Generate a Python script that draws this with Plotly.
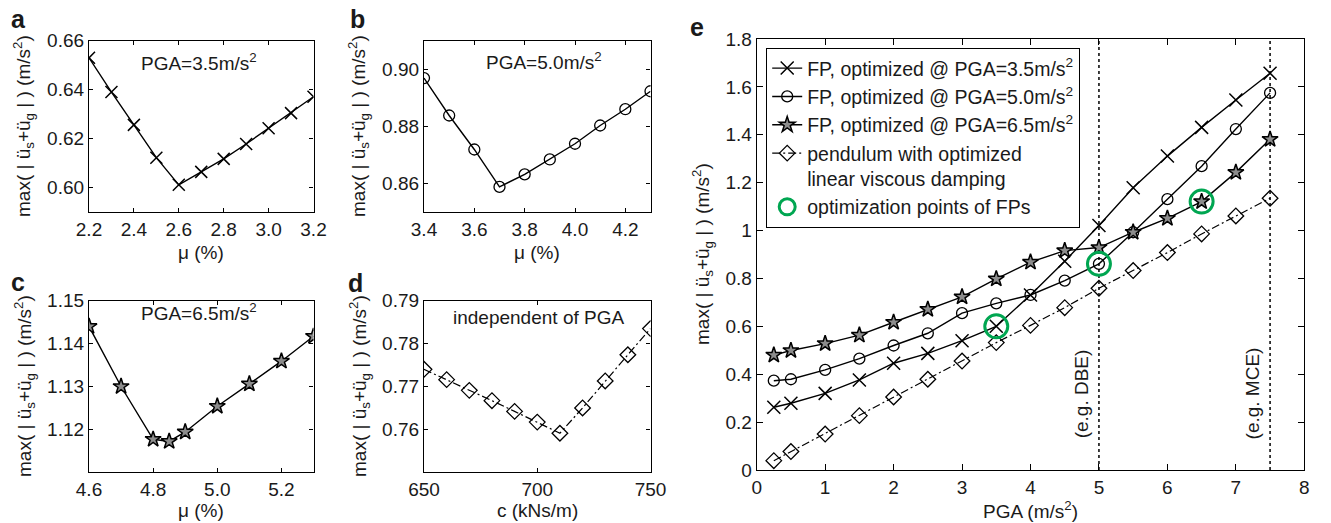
import plotly.graph_objects as go

W, H = 1331, 523

# ---------------- data ----------------
mu_a = [2.2, 2.3, 2.4, 2.5, 2.6, 2.7, 2.8, 2.9, 3.0, 3.1, 3.2]
acc_a = [0.653, 0.639, 0.6256, 0.6122, 0.6011, 0.6064, 0.6117, 0.6178, 0.6242, 0.6304, 0.6371]

mu_b = [3.4, 3.5, 3.6, 3.7, 3.8, 3.9, 4.0, 4.1, 4.2, 4.3]
acc_b = [0.8969, 0.8838, 0.8719, 0.8588, 0.8632, 0.8684, 0.8739, 0.8803, 0.8860, 0.8923]

mu_c = [4.6, 4.7, 4.8, 4.85, 4.9, 5.0, 5.1, 5.2, 5.3]
acc_c = [1.1440, 1.1300, 1.1177, 1.1172, 1.1194, 1.1254, 1.1306, 1.1359, 1.1417]

c_d = [650, 660, 670, 680, 690, 700, 710, 720, 730, 740, 750]
acc_d = [0.7740, 0.7716, 0.7691, 0.7667, 0.7642, 0.7617, 0.7591, 0.7650, 0.7713, 0.7774, 0.7835]

pga = [0.25, 0.5, 1, 1.5, 2, 2.5, 3, 3.5, 4, 4.5, 5, 5.5, 6, 6.5, 7, 7.5]
fp35 = [0.262, 0.279, 0.320, 0.376, 0.446, 0.487, 0.540, 0.600, 0.731, 0.872, 1.021, 1.179, 1.311, 1.431, 1.545, 1.657]
fp50 = [0.373, 0.379, 0.418, 0.465, 0.520, 0.571, 0.655, 0.696, 0.731, 0.791, 0.861, 0.993, 1.131, 1.269, 1.424, 1.575]
fp65 = [0.480, 0.499, 0.528, 0.563, 0.617, 0.671, 0.723, 0.798, 0.868, 0.916, 0.929, 0.993, 1.051, 1.121, 1.243, 1.381]
pend = [0.039, 0.077, 0.150, 0.227, 0.305, 0.379, 0.455, 0.532, 0.604, 0.678, 0.759, 0.833, 0.908, 0.986, 1.061, 1.135]

opt_pga = [3.5, 5.0, 6.5]
opt_val = [fp35[pga.index(3.5)], fp50[pga.index(5.0)], fp65[pga.index(6.5)]]

ref_lines = [5.0, 7.5]
ref_labels = ["(e.g. DBE)", "(e.g. MCE)"]

FONT = "Liberation Sans, Arial, Helvetica, sans-serif"
FS = 19
TXT = "#1a1a1a"
GREEN = "#00a651"
DASHDOT = "8px,3px,2px,3px"

fig = go.Figure()

def px_dom(x0, x1, y0, y1):
    return [x0 / W, x1 / W], [1 - y1 / H, 1 - y0 / H]

doms = {
    1: px_dom(89, 313.5, 40.7, 212),
    2: px_dom(424, 650.5, 40.7, 212),
    3: px_dom(89, 313.5, 300.7, 472.3),
    4: px_dom(424, 650.5, 300.7, 472.3),
    5: px_dom(756.7, 1304.3, 39, 470),
}

line_k = dict(color="black", width=1.4)

def mk(sym, size, lw=1.3, fill="black"):
    return dict(symbol=sym, size=size, color=fill, line=dict(color="black", width=lw))

STAR = mk("star", 12, 1.5, fill="#8c8c8c")

# panel a-d
fig.add_trace(go.Scatter(x=mu_a, y=acc_a, mode="lines+markers", line=line_k,
                         marker=mk("x-thin-open", 12, 1.5), xaxis="x", yaxis="y", showlegend=False))
fig.add_trace(go.Scatter(x=mu_b, y=acc_b, mode="lines+markers", line=line_k,
                         marker=mk("circle-open", 11), xaxis="x2", yaxis="y2", showlegend=False))
fig.add_trace(go.Scatter(x=mu_c, y=acc_c, mode="lines+markers", line=line_k,
                         marker=STAR, xaxis="x3", yaxis="y3", showlegend=False))
fig.add_trace(go.Scatter(x=c_d, y=acc_d, mode="lines+markers",
                         line=dict(color="black", width=1.2, dash=DASHDOT),
                         marker=mk("diamond-open", 12), xaxis="x4", yaxis="y4", showlegend=False))

# panel e
fig.add_trace(go.Scatter(x=pga, y=fp35, mode="lines+markers", line=line_k,
                         marker=mk("x-thin-open", 13, 1.5), xaxis="x5", yaxis="y5",
                         name="FP, optimized @ PGA=3.5m/s<sup>2</sup>"))
fig.add_trace(go.Scatter(x=pga, y=fp50, mode="lines+markers", line=line_k,
                         marker=mk("circle-open", 11), xaxis="x5", yaxis="y5",
                         name="FP, optimized @ PGA=5.0m/s<sup>2</sup>"))
fig.add_trace(go.Scatter(x=pga, y=fp65, mode="lines+markers", line=line_k,
                         marker=STAR, xaxis="x5", yaxis="y5",
                         name="FP, optimized @ PGA=6.5m/s<sup>2</sup>"))
fig.add_trace(go.Scatter(x=pga, y=pend, mode="lines+markers",
                         line=dict(color="black", width=1.2, dash=DASHDOT),
                         marker=mk("diamond-open", 12), xaxis="x5", yaxis="y5",
                         name="pendulum with optimized<br>linear viscous damping"))
fig.add_trace(go.Scatter(x=opt_pga, y=opt_val, mode="markers",
                         marker=dict(symbol="circle-open", size=23, color=GREEN,
                                     line=dict(color=GREEN, width=3)),
                         xaxis="x5", yaxis="y5", name="optimization points of FPs"))

axis_common = dict(showline=True, linecolor="black", linewidth=1.2, mirror="ticks",
                   ticks="inside", ticklen=4, tickwidth=1, tickcolor="black",
                   showgrid=False, zeroline=False, automargin=False,
                   tickfont=dict(family=FONT, size=FS, color=TXT))

xcfg = {
    1: dict(range=[2.2, 3.2], tickvals=[2.2, 2.4, 2.6, 2.8, 3.0, 3.2], tickformat=".1f"),
    2: dict(range=[3.4, 4.3], tickvals=[3.4, 3.6, 3.8, 4.0, 4.2], tickformat=".1f"),
    3: dict(range=[4.6, 5.3], tickvals=[4.6, 4.8, 5.0, 5.2], tickformat=".1f"),
    4: dict(range=[650, 750], tickvals=[650, 700, 750]),
    5: dict(range=[0, 8], tickvals=list(range(0, 9)), ticklen=6),
}
ycfg = {
    1: dict(range=[0.59, 0.66], tickvals=[0.60, 0.62, 0.64, 0.66], tickformat=".2f"),
    2: dict(range=[0.85, 0.91], tickvals=[0.86, 0.88, 0.90], tickformat=".2f"),
    3: dict(range=[1.11, 1.15], tickvals=[1.12, 1.13, 1.14, 1.15], tickformat=".2f"),
    4: dict(range=[0.75, 0.79], tickvals=[0.76, 0.77, 0.78, 0.79], tickformat=".2f"),
    5: dict(range=[0, 1.8], tickvals=[0, 0.2, 0.4, 0.6, 0.8, 1, 1.2, 1.4, 1.6, 1.8], ticklen=6),
}

layout_axes = {}
for i in range(1, 6):
    sfx = "" if i == 1 else str(i)
    xd, yd = doms[i]
    xa = dict(axis_common); xa.update(xcfg[i]); xa.update(domain=xd, anchor="y" + sfx)
    ya = dict(axis_common); ya.update(ycfg[i]); ya.update(domain=yd, anchor="x" + sfx)
    layout_axes["xaxis" + sfx] = xa
    layout_axes["yaxis" + sfx] = ya

shapes = []
for xv in ref_lines:
    shapes.append(dict(type="line", xref="x5", yref="y5 domain", x0=xv, x1=xv, y0=0, y1=1,
                       line=dict(color="black", width=1.5, dash="dot"), layer="below"))

ann = []
def A(text, x, y, size=FS, angle=0, bold=False, xanchor="center", yanchor="middle", **kw):
    t = f"<b>{text}</b>" if bold else text
    d = dict(text=t, x=x / W, y=1 - y / H, xref="paper", yref="paper", showarrow=False,
             textangle=angle, xanchor=xanchor, yanchor=yanchor,
             font=dict(family=FONT, size=size, color=TXT))
    d.update(kw)
    ann.append(d)

ylab = "max( | ü<sub>s</sub>+ü<sub>g</sub> | ) (m/s<sup>2</sup>)"
# panel letters
A("a", 18, 19, size=25, bold=True)
A("b", 357, 19, size=25, bold=True)
A("c", 18, 282, size=25, bold=True)
A("d", 356, 283, size=25, bold=True)
A("e", 697, 27, size=25, bold=True)
# y titles
A(ylab, 24, 126, angle=-90)
A(ylab, 359, 126, angle=-90)
A(ylab, 24, 386, angle=-90)
A(ylab, 359, 386, angle=-90)
A(ylab, 702, 254, angle=-90)
# x titles
A("μ (%)", 201, 253)
A("μ (%)", 537, 253)
A("μ (%)", 201, 510)
A("c (kNs/m)", 537, 510)
A("PGA (m/s<sup>2</sup>)", 1030, 510)
# in-panel texts
A("PGA=3.5m/s<sup>2</sup>", 199, 62)
A("PGA=5.0m/s<sup>2</sup>", 544, 61)
A("PGA=6.5m/s<sup>2</sup>", 199, 312)
A("independent of PGA", 538, 317)
# reference line labels
for xv, lab in zip(ref_lines, ref_labels):
    ann.append(dict(text=lab, x=xv, y=0.32, xref="x5", yref="y5", showarrow=False,
                    textangle=-90, xanchor="center", yanchor="middle", xshift=-18,
                    font=dict(family=FONT, size=FS, color=TXT)))

fig.update_layout(
    template="none",
    width=W, height=H, margin=dict(l=0, r=0, t=0, b=0, pad=0), autosize=False,
    paper_bgcolor="white", plot_bgcolor="white",
    font=dict(family=FONT, size=FS, color=TXT),
    shapes=shapes, annotations=ann,
    legend=dict(x=766 / W, y=1 - 47.7 / H, xanchor="left", yanchor="top",
                bordercolor="black", borderwidth=1.2, bgcolor="white",
                font=dict(family=FONT, size=19.5, color=TXT),
                valign="top", tracegroupgap=0, itemwidth=30),
    **layout_axes,
)

fig.write_html("out.html", config={"displayModeBar": False},
               post_script="document.body.style.margin='0';document.body.style.overflow='hidden';")
